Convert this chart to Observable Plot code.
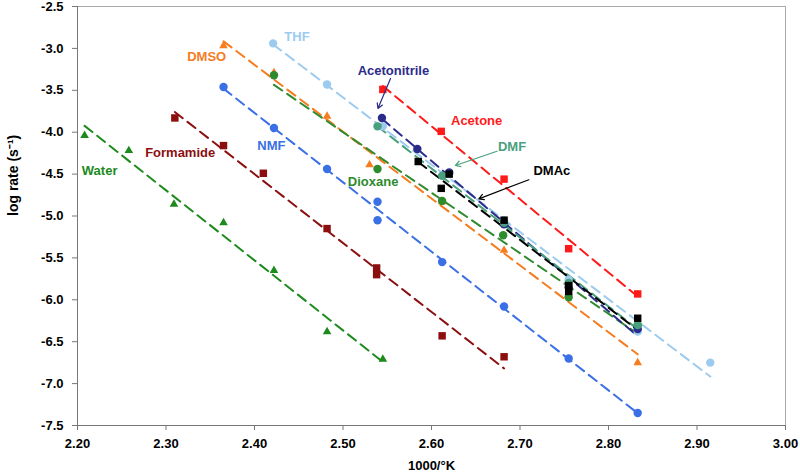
<!DOCTYPE html>
<html><head><meta charset="utf-8">
<script src="https://cdn.jsdelivr.net/npm/d3@7"></script>
<script src="https://cdn.jsdelivr.net/npm/@observablehq/plot@0.6"></script>
<style>body{margin:0;background:#fff}#chart svg{display:block}</style>
</head><body><div id="chart"></div>
<script>
// ---- data (x = 1000/K, y = log rate) ----
const names = ["Water","Formamide","NMF","DMSO","THF","Dioxane","Acetonitrile","DMF","DMAc","Acetone"];
const colors = ["#1c8a1c","#8b0f0f","#3a6fe6","#f57c1f","#9dcbef","#2e8b2e","#2b2b8c","#4aa07e","#000000","#ff1a1a"];
const symbols = ["triangle","square","circle","triangle","circle","circle","circle","circle","square","square"];

const waterX = [2.208, 2.258, 2.309, 2.365, 2.422, 2.482, 2.545];
const waterY = [-4.04, -4.22, -4.86, -5.08, -5.65, -6.38, -6.71];
const formamideX = [2.310, 2.365, 2.410, 2.482, 2.538, 2.538, 2.612, 2.682];
const formamideY = [-3.83, -4.16, -4.49, -5.15, -5.62, -5.70, -6.43, -6.68];
const nmfX = [2.365, 2.422, 2.482, 2.539, 2.539, 2.612, 2.682, 2.755, 2.833];
const nmfY = [-3.46, -3.95, -4.44, -4.83, -5.05, -5.55, -6.08, -6.70, -7.35];
const dmsoX = [2.365, 2.422, 2.482, 2.530, 2.612, 2.682, 2.755, 2.833];
const dmsoY = [-2.97, -3.29, -3.81, -4.39, -4.83, -5.41, -5.93, -6.75];
const thfX = [2.421, 2.482, 2.545, 2.620, 2.682, 2.755, 2.833, 2.915];
const thfY = [-2.94, -3.43, -3.93, -4.50, -5.05, -5.76, -6.38, -6.75];
const dioxaneX = [2.422, 2.539, 2.612, 2.681, 2.755, 2.833];
const dioxaneY = [-3.32, -4.44, -4.82, -5.23, -5.97, -6.30];
const acetonitrileX = [2.544, 2.584, 2.620, 2.682, 2.755, 2.833];
const acetonitrileY = [-3.83, -4.20, -4.48, -5.10, -5.85, -6.35];
const dmfX = [2.539, 2.612, 2.682, 2.755, 2.833];
const dmfY = [-3.93, -4.52, -5.08, -5.80, -6.30];
const dmacX = [2.585, 2.611, 2.620, 2.682, 2.755, 2.755, 2.833];
const dmacY = [-4.35, -4.67, -4.50, -5.05, -5.83, -5.90, -6.22];
const acetoneX = [2.545, 2.611, 2.682, 2.755, 2.833];
const acetoneY = [-3.49, -3.99, -4.56, -5.39, -5.93];

const xTicks = [2.2, 2.3, 2.4, 2.5, 2.6, 2.7, 2.8, 2.9, 3.0];
const yTicks = [-2.5, -3.0, -3.5, -4.0, -4.5, -5.0, -5.5, -6.0, -6.5, -7.0, -7.5];
const xTitle = "1000/°K";
const yTitle = "log rate (s⁻¹)";

// label annotations (data coordinates)
const labelText = ["THF","DMSO","NMF","Formamide","Water","Acetonitrile","Acetone","DMF","DMAc","Dioxane"];
const labelX = [2.448, 2.346, 2.419, 2.316, 2.225, 2.557, 2.651, 2.691, 2.736, 2.534];
const labelY = [-2.866, -3.097, -4.159, -4.246, -4.457, -3.264, -3.860, -4.170, -4.465, -4.597];
const labelColor = ["#9dcbef","#f57c1f","#3a6fe6","#8b0f0f","#1c8a1c","#2b2b8c","#ff1a1a","#4aa07e","#000000","#2e8b2e"];

const arrowFrom = ["Acetonitrile","DMF","DMAc"];
const arrowX1 = [2.5537, 2.674, 2.710];
const arrowY1 = [-3.359, -4.227, -4.568];
const arrowX2 = [2.5395, 2.627, 2.6535];
const arrowY2 = [-3.717, -4.397, -4.795];
const arrowColor = ["#2b2b8c","#4aa07e","#000000"];

// ---- build tables ----
const seriesX = [waterX, formamideX, nmfX, dmsoX, thfX, dioxaneX, acetonitrileX, dmfX, dmacX, acetoneX];
const seriesY = [waterY, formamideY, nmfY, dmsoY, thfY, dioxaneY, acetonitrileY, dmfY, dmacY, acetoneY];
const points = [];
names.forEach((n, i) => seriesX[i].forEach((x, j) => points.push({name: n, x, y: seriesY[i][j]})));
const labels = labelText.map((t, i) => ({t, x: labelX[i], y: labelY[i], c: labelColor[i]}));
const arrows = arrowFrom.map((n, i) => ({x1: arrowX1[i], y1: arrowY1[i], x2: arrowX2[i], y2: arrowY2[i], c: arrowColor[i]}));

const font = "'Liberation Sans', Arial, sans-serif";
const marks = [
  Plot.frame({stroke: "#aaa"}),
  Plot.ruleX([2.2], {stroke: "#777"}),
  Plot.ruleY([-7.5], {stroke: "#777"}),
  Plot.axisX({ticks: xTicks, tickFormat: d => d.toFixed(2), tickSize: 5, tickPadding: 8,
    stroke: "#777", fill: "#000", label: null}),
  Plot.axisY({ticks: yTicks, tickFormat: d => d.toFixed(1), tickSize: 5, tickPadding: 9,
    stroke: "#777", fill: "#000", label: null}),
  Plot.text([xTitle], {frameAnchor: "bottom", dy: 44, fontSize: 13, fontWeight: "bold", fill: "#000"}),
  Plot.text([yTitle], {frameAnchor: "left", dx: -64, rotate: -90, fontSize: 14, fontWeight: "bold", fill: "#000"})
];
names.forEach((n, i) => {
  const d = points.filter(p => p.name === n);
  marks.push(Plot.linearRegressionY(d, {x: "x", y: "y", stroke: colors[i], ci: 0, strokeWidth: 2, strokeDasharray: "10,6"}));
});
names.forEach((n, i) => {
  const d = points.filter(p => p.name === n);
  const r = symbols[i] === "triangle" ? 3.2 : symbols[i] === "square" ? 4.2 : 4.2;
  marks.push(Plot.dot(d, {x: "x", y: "y", fill: colors[i], symbol: symbols[i], r}));
});
marks.push(Plot.arrow(arrows, {x1: "x1", y1: "y1", x2: "x2", y2: "y2", stroke: "c", strokeWidth: 1.2, headLength: 7}));
marks.push(Plot.text(labels, {x: "x", y: "y", text: "t", fill: "c", fontWeight: "bold", fontSize: 13}));

const chart = Plot.plot({
  width: 800, height: 476,
  marginLeft: 77, marginRight: 15, marginTop: 6, marginBottom: 51,
  style: {fontFamily: font, fontWeight: "bold", fontSize: "13px", background: "#fff", color: "#000"},
  x: {domain: [2.2, 3.0]},
  y: {domain: [-7.5, -2.5]},
  color: {type: "identity"},
  marks
});
document.getElementById("chart").appendChild(chart);
</script>
</body></html>
